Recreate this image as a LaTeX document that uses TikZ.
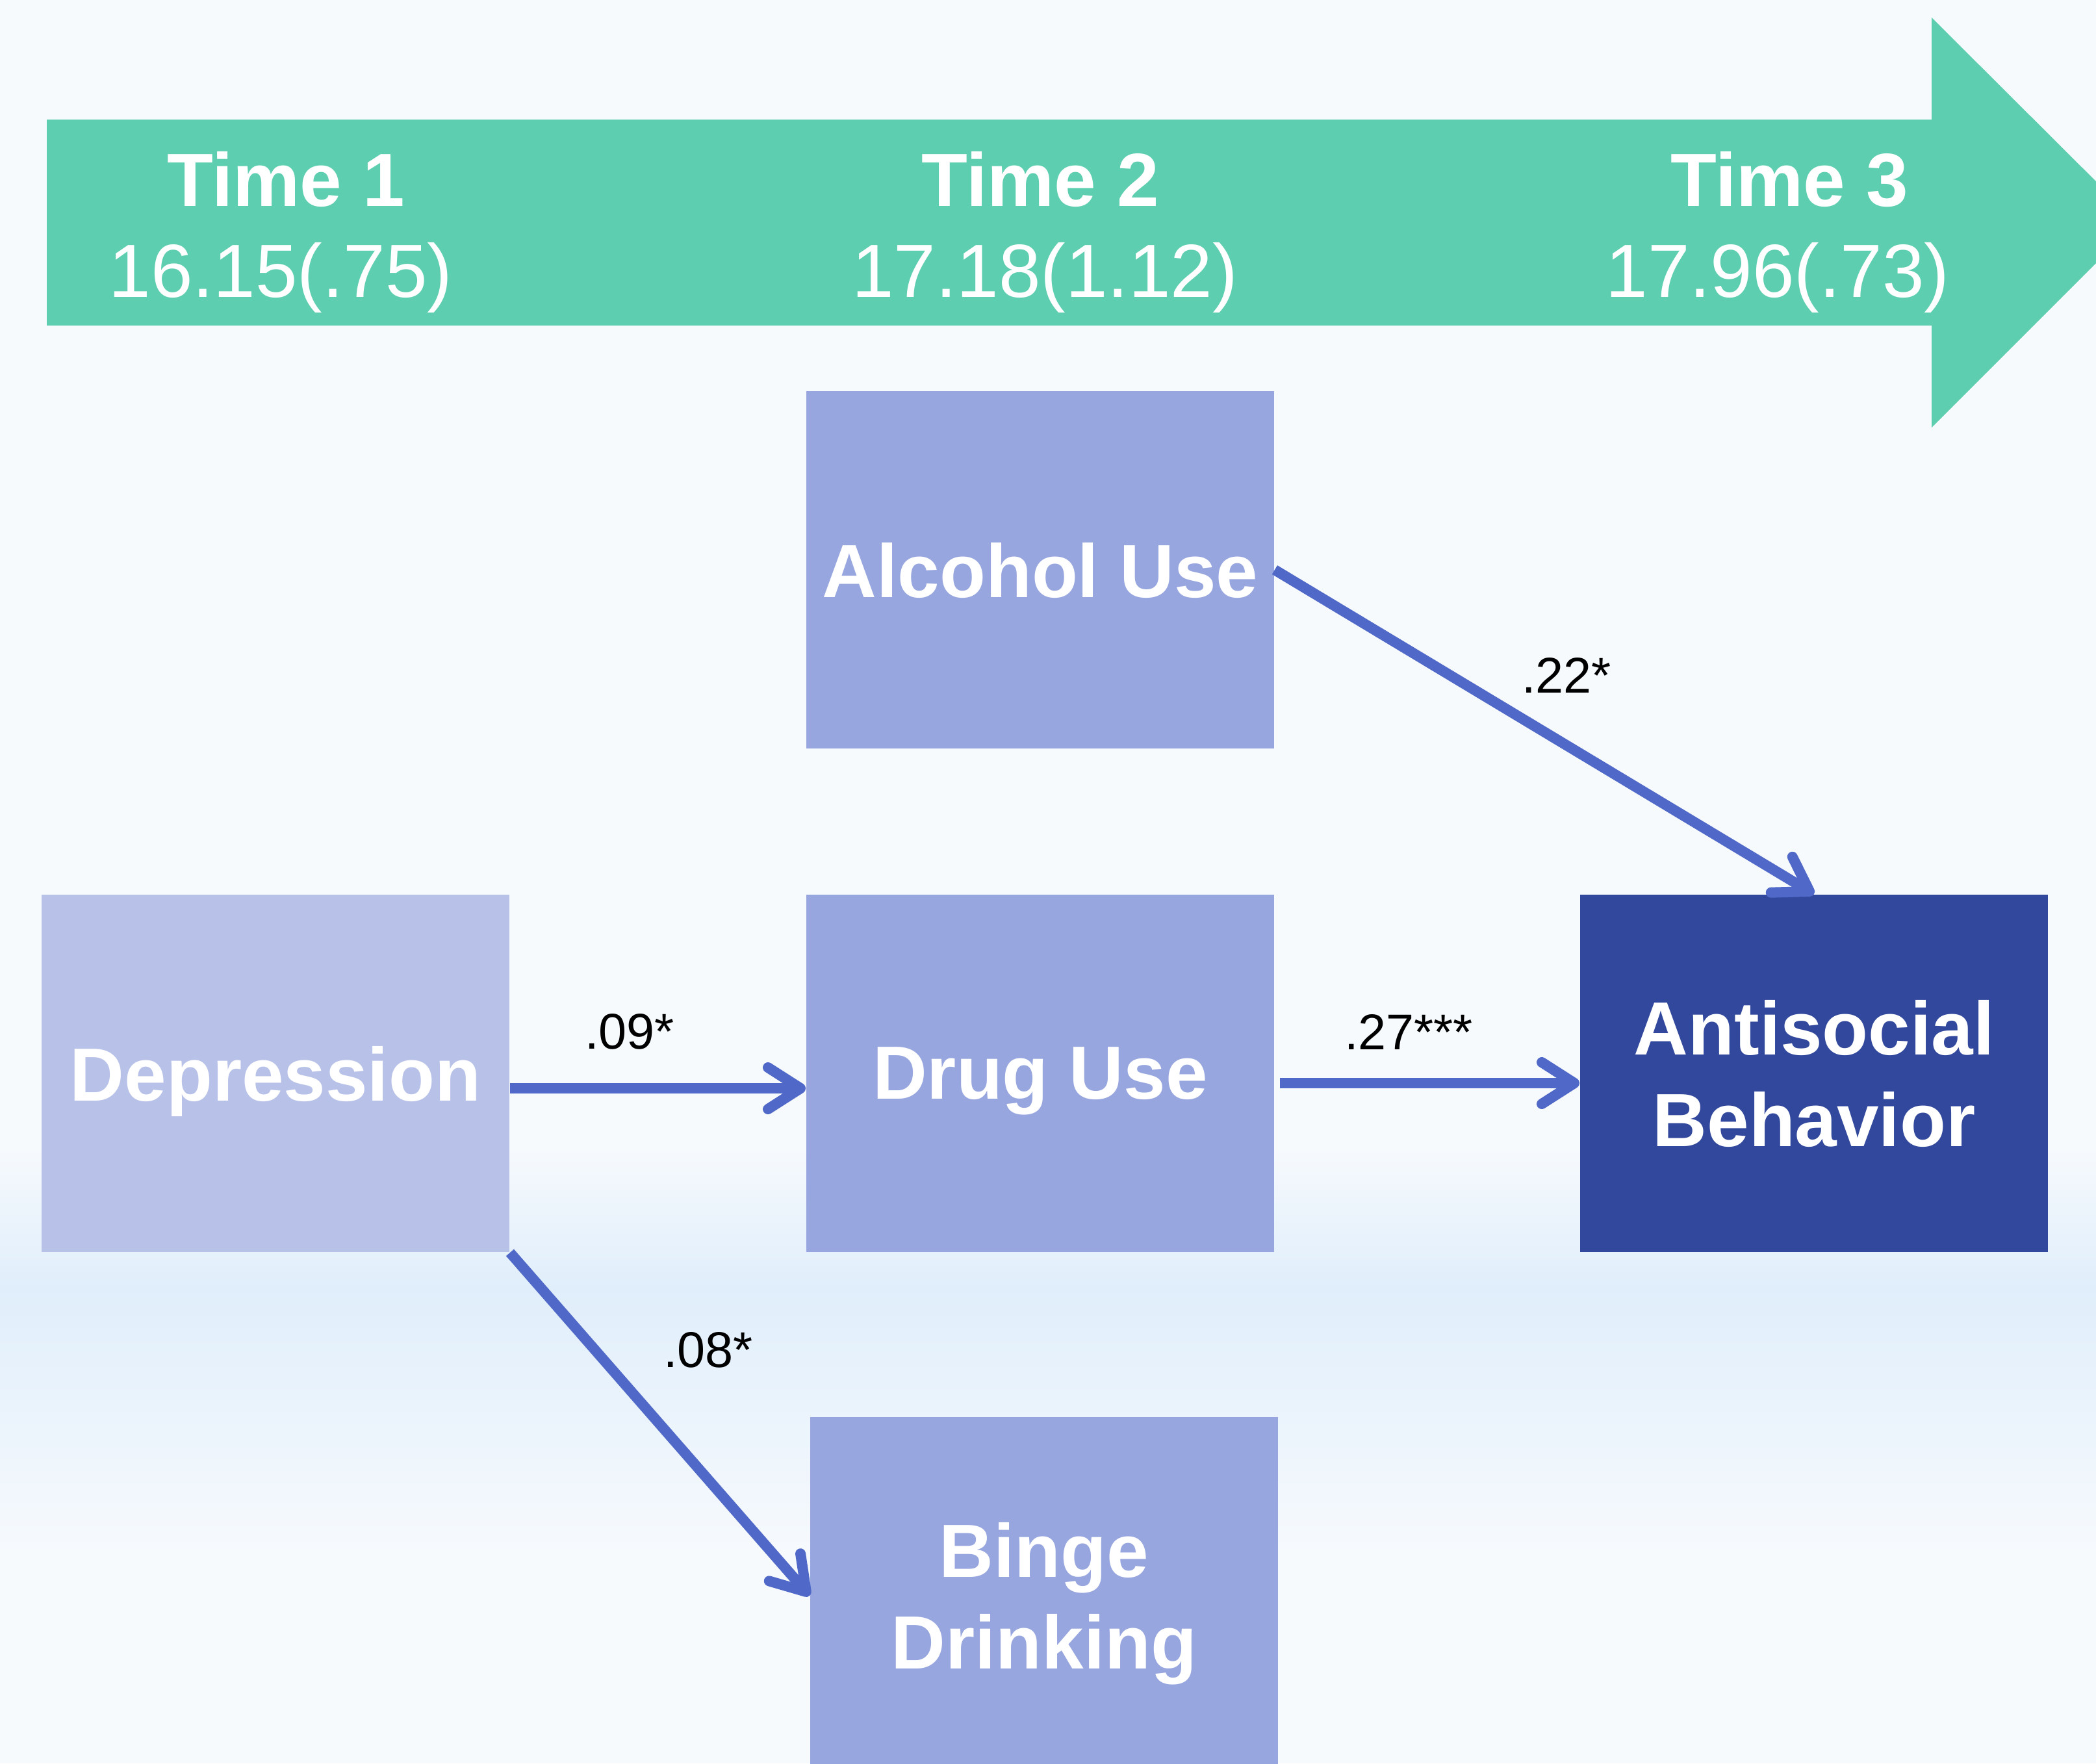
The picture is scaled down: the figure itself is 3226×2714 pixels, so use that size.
\documentclass[tikz,border=0pt]{standalone}
\usepackage{fontspec}
\setmainfont{Liberation Sans}
\usetikzlibrary{arrows.meta}

\definecolor{bandGreen}{HTML}{5DCFB0}
\definecolor{boxMid}{HTML}{97A6DE}
\definecolor{boxLight}{HTML}{B8C2E8}
\definecolor{boxDark}{HTML}{31489C}
\definecolor{linkBlue}{HTML}{5069C8}
\definecolor{bgTop}{HTML}{F7FAFD}
\definecolor{bgBand}{HTML}{E0EEFB}

\begin{document}
\begin{tikzpicture}
[x=0.01cm, y=-0.01cm,
  boxDecorate/.style={shape=rectangle, minimum width=7.2cm, minimum height=5.5cm,
    inner sep=0pt, text depth=0pt, text=white, align=center,
    font=\bfseries\fontsize{33}{40}\selectfont},
  timeDecorate/.style={text=white, anchor=base, inner sep=0pt, font=\fontsize{33}{40}\selectfont},
  lineDecorate/.style={draw=linkBlue, line width=0.16cm,
    -{Straight Barb[round,length=0.5cm,width=0.64cm]}},
  labelDecorate/.style={inner sep=0pt, font=\fontsize{22}{26}\selectfont}]
\useasboundingbox (0,0) rectangle (3226,2714);
\clip (0,0) rectangle (3226,2714);
%% background
\fill[bgTop] (0,0) rectangle (3226,1761);
\shade[top color=bgTop, bottom color=bgBand] (0,1760) rectangle (3226,1981);
\shade[top color=bgBand, bottom color=bgTop] (0,1980) rectangle (3226,2401);
\fill[bgTop] (0,2400) rectangle (3226,2714);
%% time banner
\fill[bandGreen] (72,184) -- (2973,184) -- (2973,27) -- (3289,342)
  -- (2973,658) -- (2973,501) -- (72,501) -- cycle;
\foreach \i/\x/\xa/\age in {
  1/440/432/{16.15(.75)},
  2/1601/1608/{17.18(1.12)},
  3/2754/2736/{17.96(.73)}}
{
  \node (time\i) at (\x,317) [timeDecorate,font=\bfseries\fontsize{33}{40}\selectfont] {Time \i};
  \node (age\i) at (\xa,457) [timeDecorate] {\age};
}
%% nodes or vertices
\node (alcohol) at (1601,877) [boxDecorate,fill=boxMid] {Alcohol Use};
\node (depression) at (424,1652) [boxDecorate,fill=boxLight] {Depression};
\node (drug) at (1601,1652) [boxDecorate,fill=boxMid] {Drug Use};
\node (antisocial) at (2792,1652) [boxDecorate,fill=boxDark] {Antisocial\\Behavior};
\node (binge) at (1607,2456) [boxDecorate,fill=boxMid] {Binge\\Drinking};
%% edges or lines
\draw[lineDecorate] ([yshift=-0.23cm]depression.east) -- ([yshift=-0.23cm]drug.west);
\draw[lineDecorate] ([xshift=0.08cm,yshift=-0.15cm]drug.east) -- ([yshift=-0.15cm]antisocial.west);
\draw[lineDecorate] (alcohol.east) -- (antisocial.north);
\draw[lineDecorate] (depression.south east) -- (binge.west);
%% weights
\node (w09) at (969,1588) [labelDecorate] {.09*};
\node (w27) at (2168,1588) [labelDecorate] {.27***};
\node (w22) at (2411,1039) [labelDecorate] {.22*};
\node (w08) at (1090,2078) [labelDecorate] {.08*};
\end{tikzpicture}
\end{document}
